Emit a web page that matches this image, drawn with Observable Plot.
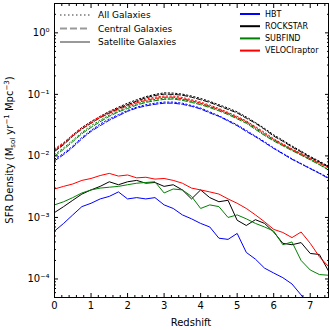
<!DOCTYPE html>
<html>
<head>
<meta charset="utf-8">
<script src="https://cdn.jsdelivr.net/npm/d3@7"></script>
<script src="https://cdn.jsdelivr.net/npm/@observablehq/plot@0.6"></script>
<style>
  body { margin: 0; background: white; }
  #chart { width: 330px; height: 330px; }
</style>
</head>
<body>
<div id="chart"></div>
<script>
// ---- data ----
const redshift = [0, 0.25, 0.5, 0.75, 1.0, 1.25, 1.5, 1.75, 2.0, 2.25, 2.5, 2.75, 3.0, 3.25, 3.5, 3.75,
  4.0, 4.25, 4.5, 4.75, 5.0, 5.25, 5.5, 5.75, 6.0, 6.25, 6.5, 6.75, 7.0, 7.25, 7.5];

const finders = ["HBT", "ROCKSTAR", "SUBFIND", "VELOCIraptor"];
const finderColors = ["#0000ff", "#000000", "#008000", "#ff0000"];
const galaxyTypes = ["All Galaxies", "Central Galaxies", "Satellite Galaxies"];

// All galaxies (dotted)
const allHBT = [0.0088, 0.011, 0.0145, 0.020, 0.026, 0.033, 0.040, 0.047, 0.055, 0.062, 0.068, 0.072, 0.075, 0.075, 0.072, 0.066,
  0.060, 0.052, 0.045, 0.038, 0.032, 0.026, 0.021, 0.017, 0.0135, 0.011, 0.009, 0.0075, 0.0063, 0.0053, 0.0044];
const allROCKSTAR = [0.0125, 0.016, 0.022, 0.029, 0.036, 0.044, 0.053, 0.062, 0.072, 0.082, 0.092, 0.100, 0.106, 0.105, 0.101, 0.094,
  0.086, 0.077, 0.068, 0.060, 0.052, 0.043, 0.035, 0.028, 0.022, 0.018, 0.0145, 0.012, 0.0098, 0.0082, 0.0068];
const allSUBFIND = [0.0105, 0.0135, 0.018, 0.024, 0.031, 0.038, 0.046, 0.054, 0.062, 0.070, 0.077, 0.083, 0.087, 0.087, 0.083, 0.077,
  0.071, 0.063, 0.056, 0.049, 0.042, 0.035, 0.028, 0.022, 0.018, 0.015, 0.0125, 0.0105, 0.0088, 0.0073, 0.006];
const allVELOCIraptor = [0.013, 0.0165, 0.022, 0.029, 0.036, 0.044, 0.052, 0.060, 0.068, 0.076, 0.084, 0.090, 0.094, 0.094, 0.089, 0.082,
  0.075, 0.067, 0.059, 0.051, 0.044, 0.037, 0.030, 0.024, 0.019, 0.0157, 0.013, 0.011, 0.0092, 0.0078, 0.0065];

// Central galaxies (dashed)
const cenHBT = [0.0083, 0.0105, 0.0138, 0.019, 0.025, 0.031, 0.038, 0.045, 0.053, 0.060, 0.065, 0.069, 0.072, 0.072, 0.069, 0.064,
  0.058, 0.050, 0.044, 0.037, 0.031, 0.025, 0.0205, 0.0165, 0.0132, 0.0108, 0.0088, 0.0074, 0.0062, 0.0052, 0.0043];
const cenROCKSTAR = [0.0118, 0.0152, 0.021, 0.0275, 0.034, 0.042, 0.050, 0.059, 0.068, 0.078, 0.088, 0.096, 0.101, 0.100, 0.097, 0.090,
  0.082, 0.074, 0.065, 0.057, 0.050, 0.041, 0.034, 0.027, 0.021, 0.0173, 0.014, 0.0116, 0.0095, 0.008, 0.0066];
const cenSUBFIND = [0.0099, 0.0128, 0.017, 0.023, 0.029, 0.036, 0.044, 0.052, 0.059, 0.067, 0.074, 0.079, 0.083, 0.084, 0.080, 0.074,
  0.068, 0.061, 0.054, 0.047, 0.040, 0.034, 0.027, 0.0215, 0.0175, 0.0146, 0.0122, 0.0103, 0.0086, 0.0072, 0.0059];
const cenVELOCIraptor = [0.0122, 0.0156, 0.021, 0.0275, 0.034, 0.042, 0.049, 0.057, 0.065, 0.073, 0.080, 0.086, 0.090, 0.090, 0.085, 0.079,
  0.072, 0.064, 0.057, 0.049, 0.042, 0.036, 0.029, 0.023, 0.0185, 0.0152, 0.0127, 0.0107, 0.009, 0.0076, 0.0064];

// Satellite galaxies (solid)
const satHBT = [0.0006, 0.0008, 0.0011, 0.0015, 0.0017, 0.0020, 0.0022, 0.0026, 0.0020, 0.0021, 0.0020, 0.0021, 0.0016, 0.0014, 0.0011, 0.00095,
  0.00080, 0.00070, 0.00046, 0.00044, 0.00055, 0.00027, 0.00021, 0.00015, 0.000125, 0.000105, 0.000083, 0.000055, 0.000035, 0.000025, 0.00002];
const satROCKSTAR = [0.0012, 0.0015, 0.0019, 0.0024, 0.0028, 0.0032, 0.0038, 0.0034, 0.0038, 0.0040, 0.0036, 0.0037, 0.0032, 0.0034, 0.0028, 0.0020,
  0.0028, 0.0021, 0.0018, 0.0019, 0.0009, 0.00074, 0.00092, 0.00080, 0.00058, 0.00038, 0.00036, 0.00039, 0.00026, 0.00025, 0.000135];
const satSUBFIND = [0.0016, 0.0018, 0.0021, 0.0025, 0.0028, 0.0030, 0.0031, 0.0032, 0.0034, 0.0036, 0.0037, 0.0038, 0.0025, 0.0029, 0.0028, 0.0022,
  0.0014, 0.0016, 0.0015, 0.0010, 0.0011, 0.00095, 0.00080, 0.00070, 0.00060, 0.00036, 0.00040, 0.00020, 0.00014, 0.000118, 0.000115];
const satVELOCIraptor = [0.0029, 0.0032, 0.0035, 0.0040, 0.0043, 0.0048, 0.0052, 0.0047, 0.0049, 0.0044, 0.0045, 0.0042, 0.0043, 0.0040, 0.0036, 0.0030,
  0.0028, 0.0026, 0.0024, 0.0020, 0.0017, 0.0014, 0.0011, 0.00085, 0.00064, 0.00057, 0.00047, 0.00058, 0.00038, 0.00023, 0.00016];

// Tick values
const xMajorTicks = [0, 1, 2, 3, 4, 5, 6, 7];
const yMajorTicks = [1e-4, 1e-3, 1e-2, 1e-1, 1];

// ---- build table ----
const series = {
  "All Galaxies": [allHBT, allROCKSTAR, allSUBFIND, allVELOCIraptor],
  "Central Galaxies": [cenHBT, cenROCKSTAR, cenSUBFIND, cenVELOCIraptor],
  "Satellite Galaxies": [satHBT, satROCKSTAR, satSUBFIND, satVELOCIraptor]
};
const rows = [];
for (const t of galaxyTypes) {
  series[t].forEach((arr, fi) => {
    arr.forEach((v, i) => rows.push({type: t, finder: finders[fi], z: redshift[i], sfr: v}));
  });
}
const xMinorTicks = d3.range(0, 7.51, 0.2).filter(v => Math.abs(v - Math.round(v)) > 1e-6);
const yMinorTicks = [];
for (let e = -5; e <= 0; e++) for (let k = 2; k <= 9; k++) {
  const v = k * Math.pow(10, e);
  if (v >= 5e-5 && v <= 3) yMinorTicks.push(v);
}
const sup = {"-": "\u207B", "0": "\u2070", "1": "\u00B9", "2": "\u00B2", "3": "\u00B3", "4": "\u2074", "5": "\u2075", "6": "\u2076", "7": "\u2077", "8": "\u2078", "9": "\u2079"};
const fmtPow = d => "10" + String(Math.round(Math.log10(d))).split("").map(c => sup[c]).join("");

const lineOpts = {x: "z", y: "sfr", z: "finder", stroke: "finder", strokeWidth: 1, clip: true};

const chart = Plot.plot({
  width: 330,
  height: 330,
  marginLeft: 54,
  marginRight: 2,
  marginTop: 3,
  marginBottom: 33,
  style: {fontFamily: "DejaVu Sans", fontSize: "10px", color: "black", background: "white"},
  x: {domain: [0, 7.5]},
  y: {type: "log", domain: [5e-5, 3]},
  color: {domain: finders, range: finderColors},
  marks: [
    Plot.line(rows.filter(d => d.type === "Satellite Galaxies"), lineOpts),
    Plot.line(rows.filter(d => d.type === "All Galaxies"), {...lineOpts, strokeDasharray: "1.4,2.3"}),
    Plot.line(rows.filter(d => d.type === "Central Galaxies"), {...lineOpts, strokeDasharray: "5,2.2"}),
    // inward ticks on all four sides
    Plot.axisX(xMajorTicks, {anchor: "bottom", tickSize: 4, dy: -4, fill: "none", label: null}),
    Plot.axisX(xMinorTicks, {anchor: "bottom", tickSize: 2, dy: -2, fill: "none", label: null}),
    Plot.axisX(xMajorTicks, {anchor: "top", tickSize: 4, dy: 4, fill: "none", label: null}),
    Plot.axisX(xMinorTicks, {anchor: "top", tickSize: 2, dy: 2, fill: "none", label: null}),
    Plot.axisY(yMajorTicks, {anchor: "left", tickSize: 4, dx: 4, fill: "none", label: null}),
    Plot.axisY(yMinorTicks, {anchor: "left", tickSize: 2, dx: 2, fill: "none", label: null}),
    Plot.axisY(yMajorTicks, {anchor: "right", tickSize: 4, dx: -4, fill: "none", label: null}),
    Plot.axisY(yMinorTicks, {anchor: "right", tickSize: 2, dx: -2, fill: "none", label: null}),
    // tick labels
    Plot.axisX(xMajorTicks, {anchor: "bottom", tickSize: 0, tickPadding: 4, tickFormat: d => String(d), label: null}),
    Plot.axisY(yMajorTicks, {anchor: "left", tickSize: 0, tickPadding: 5, tickFormat: fmtPow, label: null}),
    Plot.frame({stroke: "black", strokeWidth: 1})
  ]
});
document.getElementById("chart").appendChild(chart);

const svg = d3.select(chart);
// axis titles
svg.append("text")
  .attr("x", 191).attr("y", 326)
  .attr("text-anchor", "middle").attr("font-size", 10).attr("fill", "black")
  .text("Redshift");

const yl = svg.append("text")
  .attr("transform", "translate(9,150) rotate(-90)")
  .attr("text-anchor", "middle").attr("font-size", 10).attr("fill", "black")
  .attr("dy", "0.35em");
yl.append("tspan").text("SFR Density (M");
yl.append("tspan").attr("font-size", 7).attr("dy", 2).text("sol");
yl.append("tspan").attr("dy", -2).text(" yr");
yl.append("tspan").attr("font-size", 7).attr("dy", -4).text("\u22121");
yl.append("tspan").attr("dy", 4).text(" Mpc");
yl.append("tspan").attr("font-size", 7).attr("dy", -4).text("\u22123");
yl.append("tspan").attr("dy", 4).text(")");

// legend: line styles
const styleDash = ["1.5,2.5", "7,3", null];
const lg1 = svg.append("g");
galaxyTypes.forEach((t, i) => {
  const y = 15 + i * 13.5;
  lg1.append("line").attr("x1", 60).attr("x2", 90).attr("y1", y).attr("y2", y)
    .attr("stroke", "#999").attr("stroke-width", 2)
    .attr("stroke-dasharray", styleDash[i]);
  lg1.append("text").attr("x", 98).attr("y", y).attr("dy", "0.35em")
    .attr("text-anchor", "start")
    .attr("font-size", 9).attr("fill", "black").text(t);
});
// legend: finders
const lg2 = svg.append("g");
finders.forEach((f, i) => {
  const y = 14 + i * 12.2;
  lg2.append("line").attr("x1", 240).attr("x2", 260).attr("y1", y).attr("y2", y)
    .attr("stroke", finderColors[i]).attr("stroke-width", 2);
  lg2.append("text").attr("x", 265).attr("y", y).attr("dy", "0.35em")
    .attr("text-anchor", "start")
    .attr("font-size", 8).attr("fill", "black").text(f);
});
</script>
</body>
</html>
